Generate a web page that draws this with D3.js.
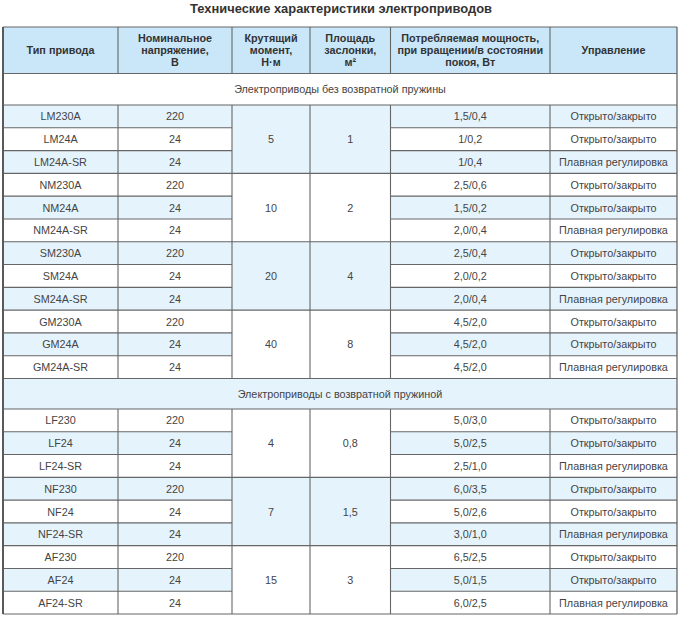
<!DOCTYPE html>
<html><head><meta charset="utf-8">
<script src="https://cdn.jsdelivr.net/npm/d3@7"></script>
<style>
html,body{margin:0;padding:0;background:#fff;}
svg{display:block;font-family:"Liberation Sans",Arial,sans-serif;}
</style></head>
<body>
<svg id="c" width="680" height="623"></svg>
<script>
const title = "Технические характеристики электроприводов";
const headers = [
  ["Тип привода"],
  ["Номинальное","напряжение,","В"],
  ["Крутящий","момент,","Н·м"],
  ["Площадь","заслонки,","м²"],
  ["Потребляемая мощность,","при вращении/в состоянии","покоя, Вт"],
  ["Управление"]
];
const sections = ["Электроприводы без возвратной пружины","Электроприводы с возвратной пружиной"];
// Section 1
const types1 = ["LM230A","LM24A","LM24A-SR","NM230A","NM24A","NM24A-SR","SM230A","SM24A","SM24A-SR","GM230A","GM24A","GM24A-SR"];
const volts1 = ["220","24","24","220","24","24","220","24","24","220","24","24"];
const torque1 = ["5","10","20","40"];
const area1 = ["1","2","4","8"];
const power1 = ["1,5/0,4","1/0,2","1/0,4","2,5/0,6","1,5/0,2","2,0/0,4","2,5/0,4","2,0/0,2","2,0/0,4","4,5/2,0","4,5/2,0","4,5/2,0"];
const control1 = ["Открыто/закрыто","Открыто/закрыто","Плавная регулировка","Открыто/закрыто","Открыто/закрыто","Плавная регулировка","Открыто/закрыто","Открыто/закрыто","Плавная регулировка","Открыто/закрыто","Открыто/закрыто","Плавная регулировка"];
// Section 2
const types2 = ["LF230","LF24","LF24-SR","NF230","NF24","NF24-SR","AF230","AF24","AF24-SR"];
const volts2 = ["220","24","24","220","24","24","220","24","24"];
const torque2 = ["4","7","15"];
const area2 = ["0,8","1,5","3"];
const power2 = ["5,0/3,0","5,0/2,5","2,5/1,0","6,0/3,5","5,0/2,6","3,0/1,0","6,5/2,5","5,0/1,5","6,0/2,5"];
const control2 = ["Открыто/закрыто","Открыто/закрыто","Плавная регулировка","Открыто/закрыто","Открыто/закрыто","Плавная регулировка","Открыто/закрыто","Открыто/закрыто","Плавная регулировка"];

const svg = d3.select("#c");
const BLUE_H = "#c9e7f9", BLUE_R = "#e4f3fc", LINE = "#666", TXT = "#444", HTXT = "#333";
const colEdges = [3,118,232,310,390.5,550,677];
const x = d3.scaleOrdinal().domain(d3.range(7)).range(colEdges);
const left = colEdges[0], right = colEdges[6];

svg.append("text").attr("x",341).attr("y",12.5).attr("text-anchor","middle")
  .attr("font-size",12.9).attr("font-weight","bold").attr("fill","#333").text(title);

const g = svg.append("g");
const yHead = [27,73.5];
// header
g.append("rect").attr("x",left).attr("y",yHead[0]).attr("width",right-left).attr("height",yHead[1]-yHead[0]).attr("fill",BLUE_H);
headers.forEach((lines,i)=>{
  const cx = (x(i)+x(i+1))/2, cy=(yHead[0]+yHead[1])/2;
  const lh = 12.2;
  lines.forEach((t,k)=>{
    g.append("text").attr("x",cx).attr("y",cy+(k-(lines.length-1)/2)*lh+4)
      .attr("text-anchor","middle").attr("font-size",10.8).attr("font-weight","bold")
      .attr("fill",HTXT).text(t);
  });
});

function drawSection(secTitle, y0, y1, yEnd, types, volts, torque, area, power, control, blueStart){
  g.append("rect").attr("x",left).attr("y",y0).attr("width",right-left).attr("height",y1-y0)
    .attr("fill", blueStart ? BLUE_R : "#fff");
  g.append("text").attr("x",340).attr("y",(y0+y1)/2+4).attr("text-anchor","middle")
    .attr("font-size",10.8).attr("fill",TXT).text(secTitle);
  const n = types.length;
  const y = d3.scaleLinear().domain([0,n]).range([y1,yEnd]);
  const isBlue = i => ((i % 2 === 0) !== blueStart);
  const cells = [types, volts, null, null, power, control];
  for(let i=0;i<n;i++){
    [0,1,4,5].forEach(c=>{
      g.append("rect").attr("x",x(c)).attr("y",y(i)).attr("width",x(c+1)-x(c)).attr("height",y(i+1)-y(i))
        .attr("fill", isBlue(i)?BLUE_R:"#fff");
      g.append("text").attr("x",(x(c)+x(c+1))/2).attr("y",(y(i)+y(i+1))/2+4)
        .attr("text-anchor","middle").attr("font-size",10.8).attr("fill",TXT).text(cells[c][i]);
    });
  }
  [[2,torque],[3,area]].forEach(([c,vals])=>{
    vals.forEach((v,gi)=>{
      const a=gi*3,b=gi*3+3;
      g.append("rect").attr("x",x(c)).attr("y",y(a)).attr("width",x(c+1)-x(c)).attr("height",y(b)-y(a))
        .attr("fill", isBlue(a)?BLUE_R:"#fff");
      g.append("text").attr("x",(x(c)+x(c+1))/2).attr("y",(y(a)+y(b))/2+4)
        .attr("text-anchor","middle").attr("font-size",10.8).attr("fill",TXT).text(v);
    });
  });
  for(let i=0;i<=n;i++){
    const full = i%3===0;
    if(full){
      g.append("line").attr("x1",left).attr("x2",right).attr("y1",y(i)).attr("y2",y(i)).attr("stroke",LINE).attr("stroke-width",1.1);
    } else {
      [[0,2],[4,6]].forEach(([a,b])=>g.append("line").attr("x1",x(a)).attr("x2",x(b)).attr("y1",y(i)).attr("y2",y(i)).attr("stroke",LINE).attr("stroke-width",1.1));
    }
  }
  g.append("line").attr("x1",left).attr("x2",right).attr("y1",y0).attr("y2",y0).attr("stroke",LINE).attr("stroke-width",1.1);
  for(let c=1;c<6;c++){
    g.append("line").attr("x1",x(c)).attr("x2",x(c)).attr("y1",y1).attr("y2",yEnd).attr("stroke",LINE).attr("stroke-width",1.1);
  }
}
drawSection(sections[0],73.5,105,378.5,types1,volts1,torque1,area1,power1,control1,false);
drawSection(sections[1],378.5,409,614,types2,volts2,torque2,area2,power2,control2,true);

for(let c=1;c<6;c++){
  g.append("line").attr("x1",x(c)).attr("x2",x(c)).attr("y1",yHead[0]).attr("y2",yHead[1]).attr("stroke",LINE).attr("stroke-width",1.1);
}
g.append("line").attr("x1",left).attr("x2",right).attr("y1",yHead[0]).attr("y2",yHead[0]).attr("stroke",LINE).attr("stroke-width",1.1);
g.append("line").attr("x1",left).attr("x2",left).attr("y1",yHead[0]).attr("y2",614).attr("stroke","#5a5a5a").attr("stroke-width",2);
g.append("line").attr("x1",right).attr("x2",right).attr("y1",yHead[0]).attr("y2",614).attr("stroke",LINE).attr("stroke-width",1.3);
</script>
</body></html>
